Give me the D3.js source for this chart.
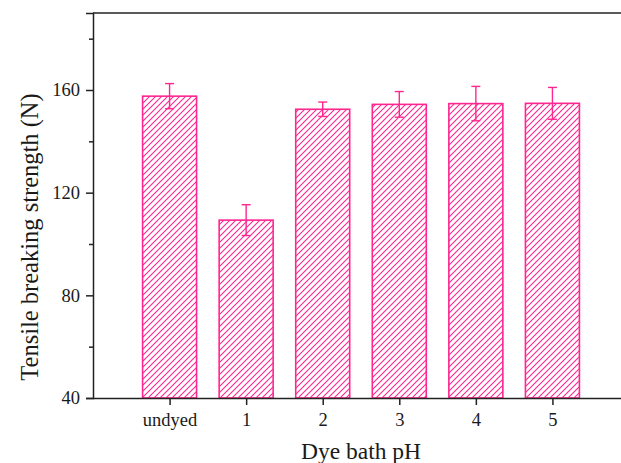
<!DOCTYPE html>
<html>
<head>
<meta charset="utf-8">
<script src="https://cdn.jsdelivr.net/npm/d3@7"></script>
<style>
  body { margin: 0; background: #fff; }
  text { font-family: "Liberation Serif", "Times New Roman", serif; fill: #1a1a1a; }
</style>
</head>
<body>
<div id="chart"></div>
<script>
// values
const categories = ["undyed", "1", "2", "3", "4", "5"];
const strength = [157.6, 109.3, 152.5, 154.4, 154.7, 154.8];
const errors = [4.9, 6.0, 2.8, 5.0, 6.7, 6.2];
const yMajorTicks = [40, 80, 120, 160];
const yMinorTicks = [60, 100, 140, 180];

const width = 621, height = 463;
const margin = {top: 13, left: 93, bottom: 65};
const pink = "#ff2690";

const svg = d3.select("#chart").append("svg")
    .attr("width", width)
    .attr("height", height);

// hatch pattern for the bars
const pat = svg.append("defs").append("pattern")
    .attr("id", "hatch")
    .attr("patternUnits", "userSpaceOnUse")
    .attr("width", 6)
    .attr("height", 6);
pat.append("path")
    .attr("d", "M-1,1 l2,-2 M0,6 l6,-6 M5,7 l2,-2")
    .attr("stroke", pink)
    .attr("stroke-width", 1.1);

const plotBottom = height - margin.bottom; // 398

// plot is wider than the window, its right side is cut off
const x = d3.scalePoint()
    .domain(categories)
    .range([margin.left, margin.left + 536])
    .padding(1);

const y = d3.scaleLinear()
    .domain([40, 190])
    .range([plotBottom, margin.top]);

const barWidth = x.step() * 0.705;

// bars
svg.selectAll(".bar")
    .data(categories)
    .enter().append("rect")
    .attr("class", "bar")
    .attr("x", d => x(d) - barWidth / 2)
    .attr("y", (d, i) => y(strength[i]))
    .attr("width", barWidth)
    .attr("height", (d, i) => plotBottom - y(strength[i]))
    .attr("fill", "url(#hatch)")
    .attr("stroke", pink)
    .attr("stroke-width", 1.6);

// error bars
const capW = 9;
categories.forEach((c, i) => {
    let cx = x(c);
    let g = svg.append("g")
        .attr("stroke", pink)
        .attr("stroke-width", 1.4);
    g.append("line")
        .attr("x1", cx).attr("x2", cx)
        .attr("y1", y(strength[i] + errors[i]))
        .attr("y2", y(strength[i] - errors[i]));
    [strength[i] + errors[i], strength[i] - errors[i]].forEach(v => {
        g.append("line")
            .attr("x1", cx - capW / 2).attr("x2", cx + capW / 2)
            .attr("y1", y(v)).attr("y2", y(v));
    });
});

// frame: top line
svg.append("line")
    .attr("x1", margin.left).attr("x2", width)
    .attr("y1", margin.top).attr("y2", margin.top)
    .attr("stroke", "#222")
    .attr("stroke-width", 1.5);

// y axis
const yAxis = svg.append("g")
    .attr("transform", `translate(${margin.left},0)`)
    .call(d3.axisLeft(y).tickValues(yMajorTicks).tickSize(7).tickPadding(6));
svg.append("g")
    .attr("transform", `translate(${margin.left},0)`)
    .call(d3.axisLeft(y).tickValues(yMinorTicks).tickSize(4).tickFormat(""))
    .select(".domain").remove();

// x axis
const xAxis = svg.append("g")
    .attr("transform", `translate(0,${plotBottom})`)
    .call(d3.axisBottom(x).tickSize(7).tickPadding(8).tickSizeOuter(0));
xAxis.select(".domain").attr("d", `M${margin.left},0.5H${width}`);

svg.selectAll(".domain, .tick line")
    .attr("stroke", "#222")
    .attr("stroke-width", 1.5);
svg.selectAll(".tick text")
    .attr("font-family", "Liberation Serif")
    .attr("font-size", 18.5)
    .attr("fill", "#1a1a1a");

// axis titles
svg.append("text")
    .attr("x", 361)
    .attr("y", 459)
    .attr("text-anchor", "middle")
    .attr("font-size", 23.5)
    .text("Dye bath pH");

svg.append("text")
    .attr("transform", "translate(38,237) rotate(-90)")
    .attr("text-anchor", "middle")
    .attr("font-size", 24.5)
    .text("Tensile breaking strength (N)");
</script>
</body>
</html>
